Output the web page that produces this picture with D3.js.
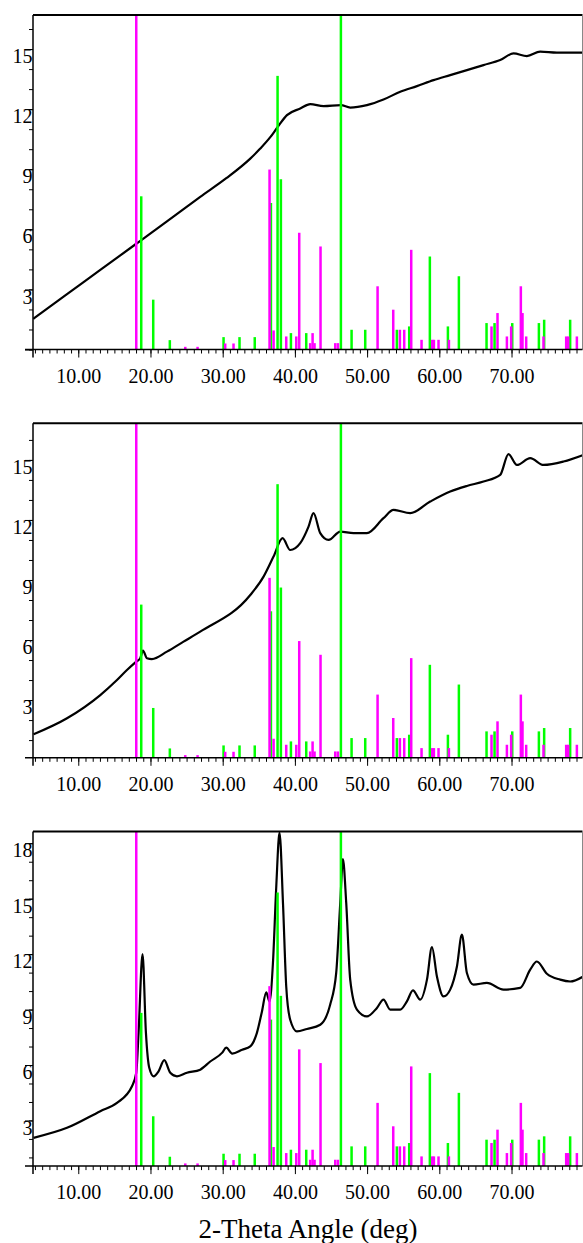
<!DOCTYPE html>
<html>
<head>
<meta charset="utf-8">
<script src="https://cdn.jsdelivr.net/npm/d3@7"></script>
<style>
  body { margin: 0; background: #fff; }
  svg { display: block; }
  text { font-family: "Liberation Serif", "Times New Roman", serif; fill: #000; }
</style>
</head>
<body>
<svg id="chart" width="583" height="1243"></svg>
<script>
// measured pattern, 2-theta (deg) vs intensity
const theta1 = [3.77, 8.44, 13.05, 18.03, 22.28, 26.89, 30.5, 33.82, 35.2, 36.59, 37.6, 38.9, 40.74, 42.12, 43.97, 46.37, 47.66, 49.97, 52.27, 54.59, 56.9, 59.2, 61.51, 63.82, 66.12, 68.43, 70.27, 72.13, 73.97, 76.28, 79.93]
const counts1 = [1.53, 2.76, 3.97, 5.28, 6.4, 7.62, 8.55, 9.53, 10.03, 10.6, 11.1, 11.7, 12.03, 12.25, 12.15, 12.2, 12.08, 12.2, 12.48, 12.87, 13.15, 13.45, 13.7, 13.95, 14.2, 14.45, 14.78, 14.65, 14.87, 14.82, 14.82]

const theta2 = [3.81, 8.44, 13.05, 15.36, 16.74, 18.03, 18.58, 18.96, 19.51, 20.2, 22.28, 24.58, 26.89, 33.82, 35.66, 37.04, 38.29, 39.35, 40.74, 41.89, 42.58, 43.51, 44.66, 46.28, 48.12, 49.97, 52.27, 53.66, 55.97, 58.74, 61.51, 63.82, 66.12, 68.43, 69.58, 70.74, 72.59, 74.43, 77.2, 79.93]
const counts2 = [1.29, 2.09, 3.25, 4.0, 4.5, 4.92, 5.09, 5.47, 5.09, 5.05, 5.42, 5.92, 6.42, 8.25, 9.17, 10.17, 11.09, 10.5, 10.84, 11.67, 12.34, 11.34, 11.0, 11.42, 11.34, 11.34, 12.09, 12.5, 12.34, 12.92, 13.42, 13.7, 13.92, 14.25, 15.29, 14.75, 15.09, 14.75, 14.92, 15.25]

const theta3 = [3.81, 8.44, 13.05, 15.36, 17.44, 18.03, 18.35, 18.9, 19.37, 19.83, 20.43, 21.12, 21.91, 22.74, 23.67, 25.05, 26.89, 28.28, 29.94, 30.49, 31.32, 32.7, 33.82, 34.74, 35.44, 36.03, 36.49, 36.96, 37.42, 37.87, 38.35, 38.8, 39.35, 40.28, 41.67, 43.51, 44.89, 45.72, 46.28, 46.65, 47.11, 47.66, 48.59, 49.97, 51.36, 52.27, 53.2, 54.59, 55.51, 56.35, 57.36, 58.29, 58.98, 59.67, 60.59, 61.51, 62.44, 63.13, 63.82, 64.74, 66.59, 68.89, 71.2, 72.59, 73.51, 74.9, 76.74, 78.12, 79.93]
const counts3 = [2.06, 2.6, 3.5, 3.95, 4.85, 5.58, 7.74, 12.0, 7.74, 5.85, 5.39, 5.66, 6.26, 5.58, 5.39, 5.58, 5.75, 6.19, 6.67, 6.94, 6.62, 6.83, 7.01, 7.74, 8.9, 9.93, 9.44, 11.52, 15.66, 18.57, 14.76, 10.25, 8.45, 7.82, 7.95, 8.18, 9.27, 10.98, 14.76, 17.14, 14.76, 10.62, 9.0, 8.63, 9.09, 9.54, 9.0, 9.0, 9.44, 10.04, 9.54, 10.62, 12.38, 10.79, 9.71, 10.08, 11.33, 13.05, 10.98, 10.35, 10.44, 10.08, 10.17, 11.16, 11.6, 10.94, 10.62, 10.52, 10.79]

// reference stick patterns, relative intensity (%)
const greenPos = [18.72, 20.38, 22.68, 30.12, 32.33, 34.44, 36.68, 37.6, 38.06, 39.45, 41.57, 46.37, 47.85, 49.74, 54.12, 55.83, 58.69, 61.19, 62.71, 66.54, 67.65, 70.1, 73.79, 74.52, 78.12]
const greenRel = [45.8, 14.9, 2.8, 3.7, 3.7, 3.7, 43.8, 81.8, 50.9, 4.9, 4.9, 100, 5.9, 5.9, 5.9, 6.9, 27.8, 6.9, 21.9, 7.9, 7.9, 7.9, 7.9, 8.9, 8.9]
const magentaPos = [18.03, 24.82, 26.52, 30.35, 31.5, 36.49, 37.05, 38.8, 40.19, 40.6, 42.12, 42.45, 42.72, 43.55, 45.59, 45.96, 51.45, 53.62, 54.54, 55.14, 56.11, 57.54, 59.02, 59.25, 59.89, 61.33, 67.23, 68.06, 69.36, 69.95, 71.29, 71.52, 72.03, 74.43, 77.57, 77.85, 79.05]
const magentaRel = [100, 0.8, 0.8, 1.8, 1.8, 53.8, 5.7, 3.9, 3.9, 34.9, 1.9, 4.9, 1.9, 30.8, 1.9, 1.9, 18.9, 11.9, 5.9, 5.9, 29.8, 2.9, 2.9, 2.9, 2.9, 2.9, 6.9, 10.9, 3.9, 6.9, 18.9, 10.9, 3.9, 3.9, 3.9, 3.9, 3.9]

const xMajor = [10, 20, 30, 40, 50, 60, 70]
const xTitle = "2-Theta Angle (deg)"

const panels = [
  {theta: theta1, counts: counts1, yDomain: [0, 16.7]},
  {theta: theta2, counts: counts2, yDomain: [0.115, 16.83]},
  {theta: theta3, counts: counts3, yDomain: [0.53, 18.63]}
]

const svg = d3.select("#chart")
const left = 33, right = 582.5
const panelH = 334.5, panelStep = 408.3, firstTop = 15
const serif = "'Liberation Serif', 'Times New Roman', serif"

const x = d3.scaleLinear().domain([3.73, 79.83]).range([left, right])
const rel = d3.scaleLinear().domain([0, 100]).range([panelH, 0])

panels.forEach((p, i) => {
  const g = svg.append("g").attr("transform", "translate(0," + (firstTop + i * panelStep) + ")")
  const y = d3.scaleLinear().domain(p.yDomain).range([panelH, 0])

  g.append("defs").append("clipPath").attr("id", "clip" + i)
    .append("rect").attr("x", left).attr("y", 0).attr("width", right - left).attr("height", panelH)

  const line = d3.line()
    .curve(d3.curveMonotoneX)
    .x((d, k) => x(p.theta[k]))
    .y(d => y(d))

  g.append("path")
    .datum(p.counts)
    .attr("clip-path", "url(#clip" + i + ")")
    .attr("d", line)
    .attr("fill", "none")
    .attr("stroke", "#000")
    .attr("stroke-width", 2.2)
    .attr("stroke-linejoin", "round")

  const sticks = g.append("g").attr("clip-path", "url(#clip" + i + ")")
  sticks.selectAll("rect.green").data(greenPos).enter().append("rect")
    .attr("class", "green")
    .attr("x", d => x(d) - 1.25)
    .attr("y", (d, k) => rel(greenRel[k]))
    .attr("width", 2.5)
    .attr("height", (d, k) => panelH - rel(greenRel[k]))
    .attr("fill", "#00ff00")
  sticks.selectAll("rect.magenta").data(magentaPos).enter().append("rect")
    .attr("class", "magenta")
    .attr("x", d => x(d) - 1.25)
    .attr("y", (d, k) => rel(magentaRel[k]))
    .attr("width", 2.5)
    .attr("height", (d, k) => panelH - rel(magentaRel[k]))
    .attr("fill", "#ff00ff")

  // frame
  g.append("line").attr("x1", left).attr("x2", right).attr("y1", 0).attr("y2", 0)
    .attr("stroke", "#000").attr("stroke-width", 2)
  g.append("line").attr("x1", right).attr("x2", right).attr("y1", 0).attr("y2", panelH)
    .attr("stroke", "#888").attr("stroke-width", 1)

  // y axis
  const [y0, y1] = p.yDomain
  const yMinor = d3.range(Math.ceil(y0), Math.floor(y1) + 1)
  const yMajor = yMinor.filter(v => v % 3 === 0)
  g.append("g").attr("transform", "translate(" + left + ",0)")
    .call(d3.axisLeft(y).tickValues(yMinor).tickSize(4).tickSizeOuter(0).tickFormat(""))
    .call(a => a.select(".domain").remove())
  const ya = g.append("g").attr("transform", "translate(" + left + ",0)")
    .call(d3.axisLeft(y).tickValues(yMajor).tickSize(8).tickSizeOuter(0).tickFormat(d => d === 0 ? "" : d))
    .attr("font-family", null).attr("font-size", null)
  ya.select(".domain").remove()
  ya.selectAll("text").attr("x", -0.5).attr("dy", "0.68em")
    .attr("font-family", serif).style("font-family", serif).style("font-size", "20px")

  g.append("line").attr("x1", left).attr("x2", left).attr("y1", 0).attr("y2", panelH + 8)
    .attr("stroke", "#000").attr("stroke-width", 1.5)

  // x axis
  g.append("g").attr("transform", "translate(0," + panelH + ")")
    .call(d3.axisBottom(x).tickValues(d3.range(4, 80)).tickSize(4).tickSizeOuter(0).tickFormat(""))
    .call(a => a.select(".domain").remove())
  const xa = g.append("g").attr("transform", "translate(0," + panelH + ")")
    .call(d3.axisBottom(x).tickValues(xMajor).tickSize(8).tickSizeOuter(0).tickFormat(d3.format(".2f")))
    .attr("font-family", null).attr("font-size", null)
  xa.select(".domain").remove()
  xa.selectAll("text").attr("y", 33).attr("dy", 0)
    .attr("font-family", serif).style("font-family", serif).style("font-size", "20px")

  g.append("line").attr("x1", left - 8).attr("x2", right).attr("y1", panelH).attr("y2", panelH)
    .attr("stroke", "#000").attr("stroke-width", 1.5)
})

svg.append("text")
  .attr("x", 308)
  .attr("y", 1238)
  .attr("text-anchor", "middle")
  .style("font-family", serif)
  .style("font-size", "27px")
  .text(xTitle)
</script>
</body>
</html>
